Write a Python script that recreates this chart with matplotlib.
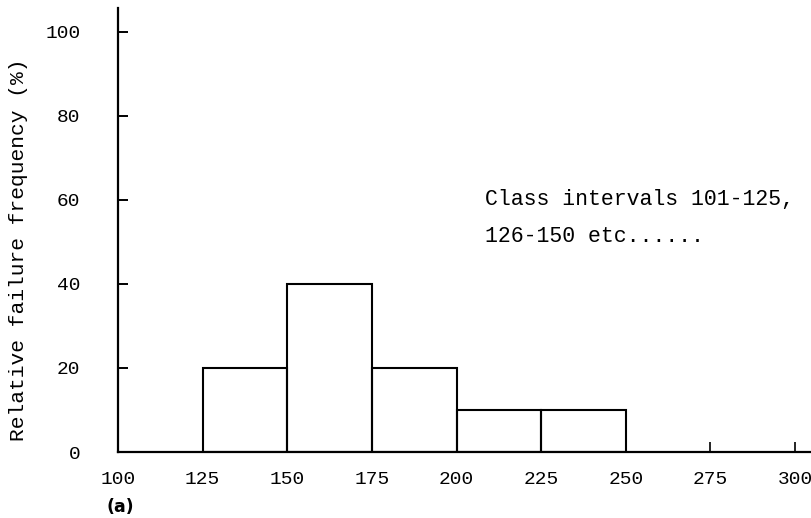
import matplotlib
matplotlib.use("Agg")
import matplotlib.pyplot as plt

# Failure counts grouped into 25-hour class intervals
bin_left = [125, 150, 175, 200, 225]
bin_width = 25
rel_freq = [20, 40, 20, 10, 10]  # percent

x_ticks = [100, 125, 150, 175, 200, 225, 250, 275, 300]
y_ticks = [0, 20, 40, 60, 80, 100]

mono = "Liberation Mono"

fig = plt.figure(figsize=(8.11, 5.18), dpi=100)
ax = fig.add_axes([0.1455, 0.1274, 0.8545, 0.8572])

ax.bar(bin_left, rel_freq, width=bin_width, align="edge",
       facecolor="none", edgecolor="black", linewidth=1.5, zorder=3)

ax.set_xlim(100, 304.7)
ax.set_ylim(0, 105.7)

for side in ("top", "right"):
    ax.spines[side].set_visible(False)
for side in ("left", "bottom"):
    ax.spines[side].set_linewidth(1.6)

ax.set_xticks(x_ticks)
ax.set_yticks(y_ticks)
ax.set_xticklabels([str(v) for v in x_ticks], fontfamily=mono, fontsize=14)
ax.set_yticklabels([str(v) for v in y_ticks], fontfamily=mono, fontsize=14)
ax.tick_params(axis="y", direction="in", length=7, width=1.4, pad=27)
ax.tick_params(axis="x", direction="in", length=7, width=1.2, pad=14)

ax.set_ylabel("Relative failure frequency (%)", fontfamily=mono, fontsize=15.3,
              va="center", ha="center")
ax.yaxis.set_label_coords(-0.144, 0.455)

ax.text(208.3, 60, "Class intervals 101-125,", fontfamily=mono, fontsize=15.5,
        ha="left", va="center")
ax.text(208.3, 51.2, "126-150 etc......", fontfamily=mono, fontsize=15.5,
        ha="left", va="center")

fig.text(106 / 811, 1 - 507 / 518, "(a)", fontfamily="DejaVu Sans",
         fontweight="bold", fontsize=12.5, ha="left", va="center")

fig.savefig("out.png", dpi=100, facecolor="white")
